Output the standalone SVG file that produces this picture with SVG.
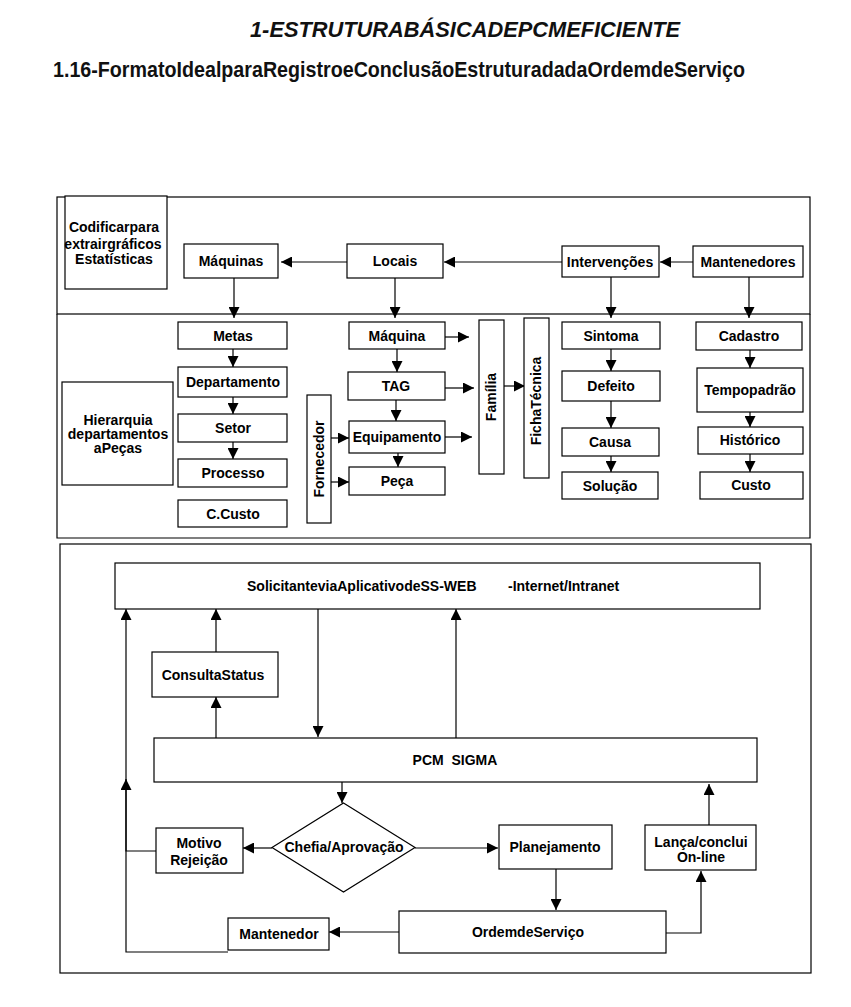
<svg xmlns="http://www.w3.org/2000/svg" width="851" height="1007" viewBox="0 0 851 1007">
<style>
.box{fill:#fff;stroke:#000;stroke-width:1.2}
.panel{fill:none;stroke:#000;stroke-width:1.2}
.t{font-family:"Liberation Sans",Arial,sans-serif;font-weight:bold;font-size:14px;text-anchor:middle;fill:#000}
.c{fill:none;stroke:#000;stroke-width:1.2}
</style>
<defs>
<marker id="ah" markerUnits="userSpaceOnUse" markerWidth="11" markerHeight="11" refX="10" refY="5" orient="auto" viewBox="0 0 10 10">
<path d="M0,0 L10,5 L0,10 z" fill="#000"/>
</marker>
</defs>
<rect width="851" height="1007" fill="#fff"/>
<g id="titles">
<text x="250" y="37" font-family="Liberation Sans,Arial,sans-serif" font-weight="bold" font-style="italic" font-size="22" textLength="430" lengthAdjust="spacingAndGlyphs" fill="#111">1-ESTRUTURABÁSICADEPCMEFICIENTE</text>
<text x="53" y="77" font-family="Liberation Sans,Arial,sans-serif" font-weight="bold" font-size="22" textLength="692" lengthAdjust="spacingAndGlyphs" fill="#111">1.16-FormatoIdealparaRegistroeConclusãoEstruturadadaOrdemdeServiço</text>
</g>
<g id="panels">
<rect class="panel" x="57" y="197" width="753" height="117"/>
<path class="panel" d="M57,314 V538 H810 V314"/>
<rect class="panel" x="60" y="544" width="751" height="429"/>
</g>
<g id="connectors">
<path class="c" d="M347,262 H281" marker-end="url(#ah)"/>
<path class="c" d="M562,262 H444" marker-end="url(#ah)"/>
<path class="c" d="M693,262 H660" marker-end="url(#ah)"/>
<path class="c" d="M234,278 V318" marker-end="url(#ah)"/>
<path class="c" d="M395,278 V318" marker-end="url(#ah)"/>
<path class="c" d="M611,277 V318" marker-end="url(#ah)"/>
<path class="c" d="M749,277 V318" marker-end="url(#ah)"/>
<path class="c" d="M233,349 V367" marker-end="url(#ah)"/>
<path class="c" d="M233,397 V414" marker-end="url(#ah)"/>
<path class="c" d="M233,442 V459" marker-end="url(#ah)"/>
<path class="c" d="M397,349 V372" marker-end="url(#ah)"/>
<path class="c" d="M396,400 V421" marker-end="url(#ah)"/>
<path class="c" d="M398,453 V467" marker-end="url(#ah)"/>
<path class="c" d="M331,438 H349" marker-end="url(#ah)"/>
<path class="c" d="M331,482 H349" marker-end="url(#ah)"/>
<path class="c" d="M445,337 H469" marker-end="url(#ah)"/>
<path class="c" d="M445,388 H474" marker-end="url(#ah)"/>
<path class="c" d="M445,437 H472" marker-end="url(#ah)"/>
<path class="c" d="M504,386 H525" marker-end="url(#ah)"/>
<path class="c" d="M611,349 V371" marker-end="url(#ah)"/>
<path class="c" d="M611,401 V428" marker-end="url(#ah)"/>
<path class="c" d="M611,456 V472" marker-end="url(#ah)"/>
<path class="c" d="M750,350 V368" marker-end="url(#ah)"/>
<path class="c" d="M750,412 V427" marker-end="url(#ah)"/>
<path class="c" d="M750,454 V472" marker-end="url(#ah)"/>
<path class="c" d="M216,652 V609" marker-end="url(#ah)"/>
<path class="c" d="M216,738 V697" marker-end="url(#ah)"/>
<path class="c" d="M318,608 V737" marker-end="url(#ah)"/>
<path class="c" d="M456,738 V609" marker-end="url(#ah)"/>
<path class="c" d="M228,952 H126 V609" marker-end="url(#ah)"/>
<path class="c" d="M156,851 H126 V779" stroke-width="2" marker-end="url(#ah)"/>
<path class="c" d="M342,782 V803" marker-end="url(#ah)"/>
<path class="c" d="M272,848 H243" marker-end="url(#ah)"/>
<path class="c" d="M415,848 H498" marker-end="url(#ah)"/>
<path class="c" d="M556,869 V910" marker-end="url(#ah)"/>
<path class="c" d="M399,932 H329" marker-end="url(#ah)"/>
<path class="c" d="M666,933 H701 V871" marker-end="url(#ah)"/>
<path class="c" d="M709,825 V784" marker-end="url(#ah)"/>
</g>
<g id="n-codificar"><rect class="box" x="65" y="196" width="102" height="93"/><text class="t" x="114" y="232">Codificarpara</text><text class="t" x="113" y="249">extrairgráficos</text><text class="t" x="114" y="264">Estatísticas</text></g>
<g id="n-maquinas"><rect class="box" x="184" y="244" width="94" height="34"/><text class="t" x="231" y="266">Máquinas</text></g>
<g id="n-locais"><rect class="box" x="347" y="244" width="96" height="34"/><text class="t" x="395" y="266">Locais</text></g>
<g id="n-intervencoes"><rect class="box" x="562" y="246" width="97" height="31"/><text class="t" x="610" y="267">Intervenções</text></g>
<g id="n-mantenedores"><rect class="box" x="693" y="246" width="110" height="31"/><text class="t" x="748" y="267">Mantenedores</text></g>
<g id="n-hierarquia"><rect class="box" x="62" y="382" width="111" height="103"/><text class="t" x="118" y="425">Hierarquia</text><text class="t" x="118" y="439">departamentos</text><text class="t" x="118" y="453">aPeças</text></g>
<g id="n-metas"><rect class="box" x="178" y="322" width="109" height="27"/><text class="t" x="233" y="341">Metas</text></g>
<g id="n-departamento"><rect class="box" x="178" y="367" width="109" height="30"/><text class="t" x="233" y="387">Departamento</text></g>
<g id="n-setor"><rect class="box" x="178" y="414" width="109" height="28"/><text class="t" x="233" y="433">Setor</text></g>
<g id="n-processo"><rect class="box" x="178" y="459" width="109" height="28"/><text class="t" x="233" y="478">Processo</text></g>
<g id="n-ccusto"><rect class="box" x="178" y="500" width="109" height="27"/><text class="t" x="233" y="519">C.Custo</text></g>
<g id="n-fornecedor"><rect class="box" x="307" y="395" width="24" height="128"/><text class="t" transform="translate(324,459) rotate(-90)">Fornecedor</text></g>
<g id="n-maquina"><rect class="box" x="349" y="322" width="96" height="27"/><text class="t" x="397" y="341">Máquina</text></g>
<g id="n-tag"><rect class="box" x="348" y="372" width="97" height="28"/><text class="t" x="396" y="391">TAG</text></g>
<g id="n-equipamento"><rect class="box" x="349" y="421" width="96" height="32"/><text class="t" x="397" y="442">Equipamento</text></g>
<g id="n-peca"><rect class="box" x="349" y="467" width="96" height="28"/><text class="t" x="397" y="486">Peça</text></g>
<g id="n-familia"><rect class="box" x="479" y="320" width="25" height="154"/><text class="t" transform="translate(496,397) rotate(-90)">Família</text></g>
<g id="n-ficha"><rect class="box" x="524" y="318" width="25" height="160"/><text class="t" transform="translate(541,401) rotate(-90)">FichaTécnica</text></g>
<g id="n-sintoma"><rect class="box" x="562" y="322" width="98" height="27"/><text class="t" x="611" y="341">Sintoma</text></g>
<g id="n-defeito"><rect class="box" x="562" y="371" width="98" height="30"/><text class="t" x="611" y="391">Defeito</text></g>
<g id="n-causa"><rect class="box" x="562" y="428" width="97" height="28"/><text class="t" x="610" y="447">Causa</text></g>
<g id="n-solucao"><rect class="box" x="562" y="472" width="96" height="27"/><text class="t" x="610" y="491">Solução</text></g>
<g id="n-cadastro"><rect class="box" x="696" y="322" width="106" height="28"/><text class="t" x="749" y="341">Cadastro</text></g>
<g id="n-tempopadrao"><rect class="box" x="697" y="368" width="106" height="44"/><text class="t" x="750" y="395">Tempopadrão</text></g>
<g id="n-historico"><rect class="box" x="698" y="427" width="105" height="27"/><text class="t" x="750" y="445">Histórico</text></g>
<g id="n-custo"><rect class="box" x="700" y="472" width="103" height="27"/><text class="t" x="751" y="490">Custo</text></g>
<g id="n-solicitante"><rect class="box" x="115" y="563" width="645" height="46"/><text class="t" x="247" y="591" style="text-anchor:start">SolicitanteviaAplicativodeSS-WEB</text><text class="t" x="508" y="591" style="text-anchor:start">-Internet/Intranet</text></g>
<g id="n-consulta"><rect class="box" x="152" y="652" width="126" height="45"/><text class="t" x="213" y="680">ConsultaStatus</text></g>
<g id="n-pcm"><rect class="box" x="154" y="738" width="603" height="44"/><text class="t" x="455" y="765" xml:space="preserve">PCM  SIGMA</text></g>
<g id="n-chefia"><polygon class="box" points="343.5,803 415,847.5 343.5,892 272,847.5"/><text class="t" x="344" y="852">Chefia/Aprovação</text></g>
<g id="n-motivo"><rect class="box" x="156" y="828" width="87" height="45"/><text class="t" x="199" y="848">Motivo</text><text class="t" x="199" y="865">Rejeição</text></g>
<g id="n-planejamento"><rect class="box" x="499" y="825" width="113" height="44"/><text class="t" x="555" y="852">Planejamento</text></g>
<g id="n-lanca"><rect class="box" x="645" y="825" width="111" height="45"/><text class="t" x="701" y="847">Lança/conclui</text><text class="t" x="701" y="862">On-line</text></g>
<g id="n-ordem"><rect class="box" x="399" y="911" width="267" height="42"/><text class="t" x="528" y="937">OrdemdeServiço</text></g>
<g id="n-mantenedor"><rect class="box" x="228" y="918" width="101" height="32"/><text class="t" x="279" y="939">Mantenedor</text></g>
</svg>
